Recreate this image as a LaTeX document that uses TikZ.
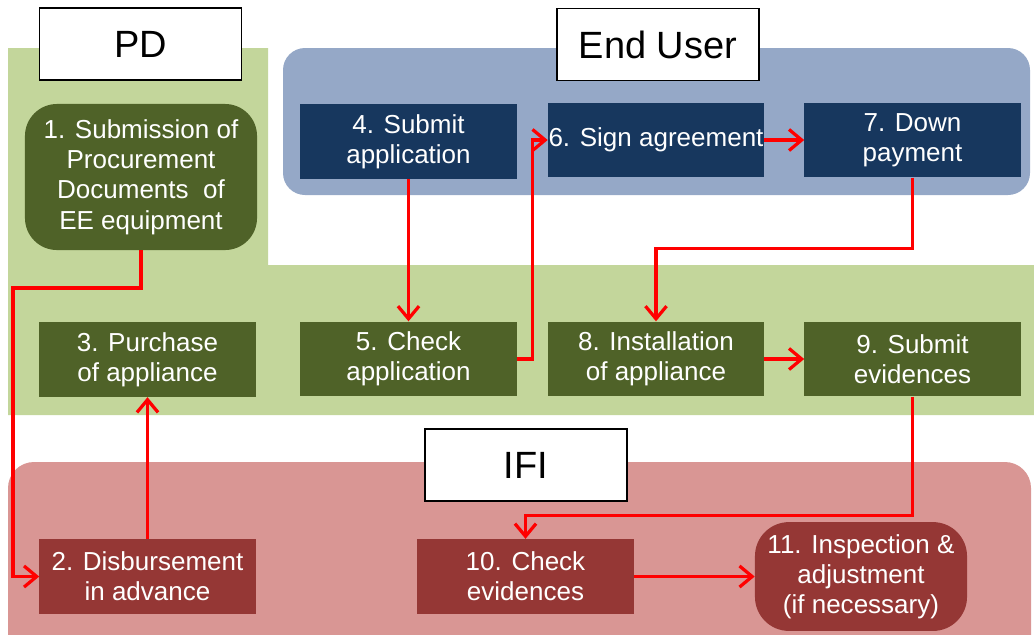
\documentclass[tikz,border=0pt]{standalone}
\usepackage{fontspec}
\setmainfont{Liberation Sans}
\usepackage{xcolor}
\usetikzlibrary{positioning,arrows.meta}

\definecolor{pdback}{HTML}{C3D69B}
\definecolor{pdbox}{HTML}{4F6228}
\definecolor{userback}{HTML}{95A8C7}
\definecolor{userbox}{HTML}{17375E}
\definecolor{ifiback}{HTML}{D99694}
\definecolor{ifibox}{HTML}{953735}
\definecolor{flowred}{HTML}{FF0000}

\begin{document}
\begin{tikzpicture}[x=0.025cm, y=-0.025cm,
    step box/.style={text=white, align=center, inner xsep=0pt, inner ysep=2pt,
        minimum width=5.4cm, minimum height=1.87cm,
        font=\fontsize{18.5pt}{21.5pt}\selectfont},
    actor/.style={draw=black, thick, fill=white, minimum width=5.05cm,
        minimum height=1.8cm, font=\fontsize{27pt}{30pt}\selectfont},
    flow/.style={draw=flowred, line width=2.3pt,
        -{Straight Barb[length=9pt, width=15pt, line width=2.3pt]}}]
    \useasboundingbox (0,0) rectangle (1034,634);
    \clip (0,0) rectangle (1034,634);

    % Swim lanes
    \fill[pdback] (8,48) -- (268,48) -- (268,265) -- (1040,265)
        -- (1040,415) -- (8,415) -- cycle;
    \fill[userback, rounded corners=0.55cm] (283,48) rectangle (1030,195);
    \fill[ifiback, rounded corners=0.65cm] (8,462) rectangle (1031,680);

    % Actor labels
    \node[actor] (pd) at (140.5,44) {PD};
    \node[actor] (user) at (658,44.5) {End User};
    \node[actor] (ifi) at (526,465) {IFI};

    % PD steps
    \node[step box, fill=pdbox, rounded corners=0.8cm,
        minimum width=5.8cm, minimum height=3.65cm] (n1) at (141,177)
        {1. Submission of\\Procurement\\Documents~~of\\EE equipment};
    \node[step box, fill=pdbox] (n3) at (147.5,359.5) {3. Purchase\\of appliance};
    \node[step box, fill=pdbox] (n5) at (408.5,359) {5. Check\\application};
    \node[step box, fill=pdbox] (n8) at (656,359) {8. Installation\\of appliance};
    \node[step box, fill=pdbox] (n9) at (912.5,359) {9. Submit\\evidences};

    % End user steps
    \node[step box, fill=userbox] (n4) at (408.5,141.5) {4. Submit\\application};
    \node[step box, fill=userbox] (n6) at (656,140) {6. Sign agreement};
    \node[step box, fill=userbox] (n7) at (912.5,140) {7. Down\\payment};

    % IFI steps
    \node[step box, fill=ifibox] (n2) at (147.5,576.5) {2. Disbursement\\in advance};
    \node[step box, fill=ifibox] (n10) at (525.5,576.5) {10. Check\\evidences};
    \node[step box, fill=ifibox, rounded corners=0.85cm,
        minimum width=5.3cm, minimum height=2.72cm] (n11) at (861,576.5)
        {11. Inspection \&\\adjustment\\(if necessary)};

    % Flow of the procedure
    \draw[flow] (n1.south) |- (13,288) |- (n2.west);
    \draw[flow] (n2.north) -- (n3.south);
    \draw[flow] (n4.south) -- (n5.north);
    \draw[flow] (n5.east) -- ++(16,0) |- (n6.west);
    \draw[flow] (n6.east) -- (n7.west);
    \draw[flow] (n7.south) -- ++(0,71) -| (n8.north);
    \draw[flow] (n8.east) -- (n9.west);
    \draw[flow] (n9.south) -- ++(0,119) -| (n10.north);
    \draw[flow] (n10.east) -- (n11.west);
\end{tikzpicture}
\end{document}
